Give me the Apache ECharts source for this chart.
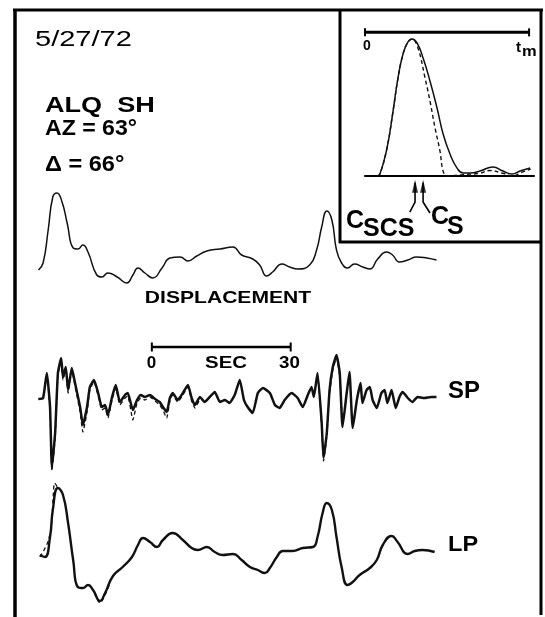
<!DOCTYPE html>
<html>
<head>
<meta charset="utf-8">
<script src="https://cdn.jsdelivr.net/npm/echarts@6/dist/echarts.min.js"></script>
<style>
html, body { margin: 0; padding: 0; background: #fff; }
#main { width: 545px; height: 617px; }
</style>
</head>
<body>
<div id="main"></div>
<script>
// traces: [time (s), relative amplitude]
var dispTrace = [[0.1,0],[1.1,7],[2.2,40],[3.2,73],[4.1,77],[5.2,68],[6.3,47],[7.6,22],[8.6,21],[9.7,25],[10.8,18],[12.7,-5],[13.8,-7],[15.1,-3],[17.1,-7],[19.2,-13],[20.5,-5],[21.6,2],[23.1,-3],[24.8,-8],[26.8,2],[28.5,12],[30.7,13],[32.4,9],[34.3,14],[36.5,19],[39.3,21],[42.1,23],[44.0,15],[46.4,11],[47.9,5],[49.4,-6],[50.7,-2],[52.7,6],[54.4,3],[56.1,1],[58.7,5],[60.2,20],[61.3,43],[62.4,59],[63.5,50],[64.5,20],[65.6,7],[66.9,2],[68.4,6],[70.2,3],[71.7,1],[73.4,11],[75.3,18],[76.6,15],[78.1,8],[79.9,10],[81.8,13],[84.0,12],[86.1,10]];

var spSolid = [[0.1,-1],[1.1,0],[1.9,25],[2.6,-9],[3.0,-69],[3.7,-35],[4.3,25],[5.0,40],[5.4,21],[6.0,31],[6.5,8],[7.3,30],[8.0,15],[9.1,-9],[9.7,-27],[10.6,-9],[11.2,11],[12.1,18],[13.0,5],[13.8,-9],[14.5,-7],[15.1,-17],[16.0,1],[16.8,13],[17.7,-4],[18.8,3],[19.4,5],[20.5,-12],[21.4,-2],[22.2,3],[23.1,1],[24.2,3],[25.3,-1],[26.3,-4],[27.0,-9],[27.8,-14],[28.5,0],[29.1,5],[30.2,-2],[31.3,5],[32.4,13],[33.2,0],[33.9,-7],[35.0,1],[36.0,-4],[37.1,1],[38.2,6],[39.3,-4],[40.4,-2],[41.4,-5],[42.5,3],[43.6,18],[44.5,-2],[45.3,-9],[46.4,-15],[47.5,5],[48.6,10],[50.1,5],[51.2,-7],[52.2,-10],[53.3,-2],[54.8,5],[56.1,0],[57.2,-9],[58.3,3],[59.1,11],[59.6,1],[60.4,25],[61.3,-25],[61.7,-60],[62.4,-35],[63.0,8],[63.7,31],[64.5,43],[65.2,25],[65.8,-29],[66.7,5],[67.3,26],[68.0,-30],[68.9,-2],[69.7,15],[70.1,-5],[71.0,8],[71.7,11],[72.3,-2],[73.2,-10],[74.2,5],[74.9,8],[75.5,-5],[76.4,8],[77.3,-10],[78.1,1],[78.8,6],[79.9,0],[80.9,-4],[82.0,1],[83.5,0],[85.0,1],[86.1,1]];
var spDashedA = [[0.1,-1],[1.1,0],[1.9,23],[2.6,-12],[3.0,-73],[3.7,-40],[4.3,22],[5.0,38],[5.4,18],[6.0,28],[6.5,5],[7.3,27],[8.0,12],[9.1,-14],[9.7,-34],[10.6,-14],[11.2,8],[12.1,16],[13.0,2],[13.8,-12],[14.5,-10],[15.1,-20],[16.0,-2],[16.8,10],[17.7,-7],[18.8,0],[19.4,2],[20.5,-22],[21.4,-5],[22.2,0],[23.1,-2],[24.2,1],[25.3,-3],[26.3,-7],[27.0,-12],[27.8,-20],[28.5,-3],[29.1,3],[30.2,-4],[31.3,3],[32.4,11],[33.2,-3],[33.9,-10],[35.0,-1]];
var spDashedB = [[59.6,1],[60.4,22],[61.3,-28],[61.7,-63],[62.4,-38],[63.0,4],[63.7,28],[64.5,40],[65.2,21],[65.8,-27]];

var lpSolid = [[0.4,0],[1.5,-2],[2.6,18],[3.2,45],[4.3,67],[5.4,60],[6.5,32],[7.6,-5],[8.6,-32],[9.7,-33],[10.8,-30],[11.9,-35],[13.4,-46],[14.5,-38],[16.2,-21],[18.3,-12],[20.3,-2],[21.6,10],[22.7,17],[24.2,13],[25.7,8],[27.0,15],[29.1,22],[31.3,15],[33.2,7],[34.5,5],[36.5,8],[38.2,3],[39.9,0],[42.1,1],[44.0,-5],[45.8,-12],[47.5,-15],[49.0,-18],[50.1,-13],[51.6,-2],[52.9,4],[55.0,4],[57.2,7],[59.4,8],[60.4,18],[61.5,42],[62.4,52],[63.5,45],[64.5,18],[65.6,-12],[66.9,-30],[68.0,-27],[69.5,-20],[71.7,-13],[73.2,-5],[74.5,10],[76.4,19],[77.7,13],[79.9,1],[81.4,4],[83.1,5],[85.7,3]];
var lpDashedA = [[0.4,-2],[1.2,4],[2.2,14],[2.9,30],[3.3,60],[3.6,72],[4.3,67]];
var lpDashedB = [[12.2,-38],[13.4,-48],[14.5,-40],[15.4,-30]];

// inset: [time / tm, normalised amplitude]
var insetSolid = [[0.073,0],[0.091,0.015],[0.134,0.204],[0.171,0.474],[0.201,0.715],[0.232,0.891],[0.262,0.978],[0.287,1.0],[0.317,0.971],[0.354,0.861],[0.396,0.693],[0.439,0.496],[0.476,0.307],[0.518,0.161],[0.561,0.058],[0.598,0.022],[0.640,0.022],[0.701,0.036],[0.780,0.066],[0.841,0.036],[0.896,0.015],[0.945,0.036],[1.006,0.058]];
var insetDashed = [[0.073,0],[0.091,0.015],[0.134,0.204],[0.171,0.474],[0.201,0.715],[0.232,0.891],[0.262,0.978],[0.287,1.0],[0.323,0.934],[0.366,0.715],[0.396,0.547],[0.427,0.35],[0.457,0.182],[0.476,0.036],[0.50,0],[0.60,0.01],[0.70,0.02],[0.76,0.04],[0.84,0.02],[0.90,0.0],[0.95,0.025],[1.01,0.05]];
var arrivals = [0.305, 0.354];   // C_SCS, C_S

var secBar = [24.6, 30];          // start (s), length (s)
var tmBar = [0, 1];

var FONT = '"Liberation Sans", Arial, sans-serif';

function label(text, x, y, size, bold, sx, align) {
	return {
		type: 'text', x: x, y: y, scaleX: sx || 1, z: 10,
		style: {
			text: text, fill: '#000',
			font: (bold ? 'bold ' : '') + size + 'px ' + FONT,
			textAlign: align || 'left', textVerticalAlign: 'middle',
			align: align || 'left', verticalAlign: 'middle'
		}
	};
}
function rule(x1, y1, x2, y2, w) {
	return { type: 'line', z: 10, shape: { x1: x1, y1: y1, x2: x2, y2: y2 }, style: { stroke: '#000', lineWidth: w } };
}
function trace(data, xi, w, dashed, smooth) {
	return {
		type: 'line', xAxisIndex: xi, yAxisIndex: xi, data: data,
		showSymbol: false, symbol: 'none', smooth: smooth, clip: false,
		lineStyle: { color: '#111', width: w, type: dashed ? [4, 3] : 'solid' },
		z: dashed ? 2 : 3
	};
}

var chart = echarts.init(document.getElementById('main'));

var hiddenX = function (gi, min, max) {
	return { type: 'value', gridIndex: gi, min: min, max: max, show: false };
};

var option = {
	animation: false,
	backgroundColor: '#fff',
	grid: [
		{ left: 38, top: 180, width: 398, height: 110 },
		{ left: 38, top: 343, width: 398, height: 130 },
		{ left: 38, top: 480, width: 398, height: 130 },
		{ left: 365, top: 31, width: 169, height: 145 }
	],
	xAxis: [
		hiddenX(0, 0, 86),
		hiddenX(1, 0, 86),
		hiddenX(2, 0, 86),
		{
			type: 'value', gridIndex: 3, min: 0, max: 1.03,
			axisLine: { show: true, lineStyle: { color: '#000', width: 2 } },
			axisTick: { show: false }, axisLabel: { show: false }, splitLine: { show: false }
		}
	],
	yAxis: [
		{ type: 'value', gridIndex: 0, min: -20, max: 90, show: false },
		{ type: 'value', gridIndex: 1, min: -75, max: 55, show: false },
		{ type: 'value', gridIndex: 2, min: -55, max: 75, show: false },
		{ type: 'value', gridIndex: 3, min: 0, max: 1.058, show: false }
	],
	series: [
		trace(dispTrace, 0, 1.5, false, 0.5),
		trace(spDashedA, 1, 1.3, true, 0.15),
		trace(spDashedB, 1, 1.3, true, 0.15),
		trace(spSolid, 1, 2.5, false, 0.15),
		trace(lpDashedA, 2, 1.3, true, 0.3),
		trace(lpDashedB, 2, 1.3, true, 0.3),
		trace(lpSolid, 2, 2.4, false, 0.5),
		trace(insetDashed, 3, 1.4, true, 0.4),
		trace(insetSolid, 3, 1.5, false, 0.5),
		{
			type: 'line', xAxisIndex: 1, yAxisIndex: 1, clip: false,
			data: [[secBar[0], 51], [secBar[0] + secBar[1], 51]],
			symbol: 'rect', symbolSize: [2, 9], showSymbol: true,
			itemStyle: { color: '#000' }, lineStyle: { color: '#000', width: 2.5 }
		},
		{
			type: 'line', xAxisIndex: 3, yAxisIndex: 3, clip: false,
			data: [[tmBar[0], 1.048], [tmBar[1], 1.048]],
			symbol: 'rect', symbolSize: [2, 8], showSymbol: true,
			itemStyle: { color: '#000' }, lineStyle: { color: '#000', width: 3 }
		},
		{
			type: 'line', xAxisIndex: 3, yAxisIndex: 3, clip: false, symbol: 'none',
			data: [[arrivals[0], -0.05], [arrivals[0], -0.19], [arrivals[0] - 0.032, -0.263]],
			lineStyle: { color: '#000', width: 1.6 }
		},
		{
			type: 'line', xAxisIndex: 3, yAxisIndex: 3, clip: false, symbol: 'none',
			data: [[arrivals[1], -0.05], [arrivals[1], -0.19], [arrivals[1] + 0.042, -0.27]],
			lineStyle: { color: '#000', width: 1.6 }
		},
		{
			type: 'scatter', xAxisIndex: 3, yAxisIndex: 3, clip: false,
			symbol: 'triangle', symbolSize: [6, 13],
			data: arrivals.map(function (u) { return [u, -0.075]; }),
			itemStyle: { color: '#000' }
		}
	],
	graphic: [
		rule(15, 9, 15, 617, 3.5),
		rule(13, 10, 543, 10, 3),
		rule(541, 9, 541, 615, 3),
		rule(340, 9, 340, 243, 3),
		rule(339, 242, 542, 242, 3),
		label('5/27/72', 35, 40, 22, false, 1.32),
		label('ALQ  SH', 45, 106, 22, true, 1.23),
		label('AZ = 63°', 45, 128.5, 22, true, 1.05),
		label('Δ = 66°', 45, 164.5, 22, true, 1.07),
		label('DISPLACEMENT', 228, 298.5, 17, true, 1.24, 'center'),
		label('0', 151.5, 363.5, 17, true, 1, 'center'),
		label('SEC', 226, 363.5, 17, true, 1.2, 'center'),
		label('30', 289.5, 363.5, 17, true, 1.1, 'center'),
		label('SP', 448, 391.5, 23, true, 1.04),
		label('LP', 448, 544.5, 22, true, 1.07),
		label('0', 367, 46, 14, true, 1, 'center'),
		label('t', 516, 48, 15, true, 1),
		label('m', 522, 51.5, 15, true, 1.1),
		label('C', 346, 221, 25, true, 1),
		label('SCS', 363, 229, 25, true, 1),
		label('C', 431, 217.5, 25, true, 1),
		label('S', 447, 227.5, 25, true, 1)
	]
};

chart.setOption(option);
window.addEventListener('resize', function () {
	chart.resize();
});
</script>
</body>
</html>
